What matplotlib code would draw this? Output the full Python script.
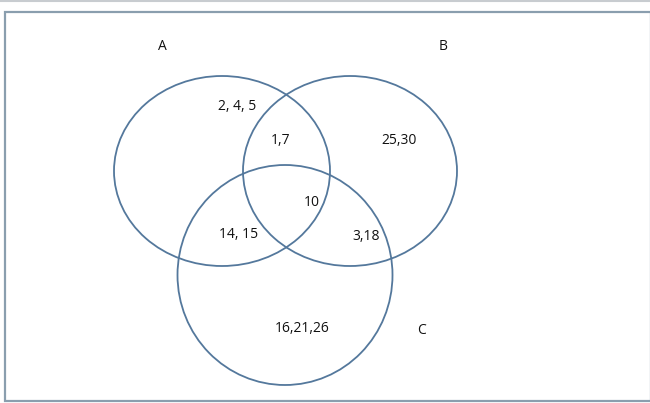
import matplotlib
matplotlib.use('Agg')
import matplotlib.pyplot as plt
from matplotlib.patches import Ellipse, Rectangle

# Conjuntos e elementos de cada regiao
conjuntos = ['A', 'B', 'C']
regioes = ['2, 4, 5', '1,7', '25,30', '10', '14, 15', '3,18', '16,21,26']

cor_linha = '#54789c'

fig = plt.figure(figsize=(6.5, 4.03), dpi=100)
ax = fig.add_axes([0, 0, 1, 1])
ax.set_xlim(0, 650)
ax.set_ylim(403, 0)
ax.axis('off')

# moldura
ax.plot([0, 650], [1, 1], color='#c8ccd0', lw=1.5)
ax.add_patch(Rectangle((5, 12), 646, 389, fill=False, ec='#8a9eae', lw=1.6))

# elipses A, B, C
ax.add_patch(Ellipse((222, 171), 216, 190, fill=False, ec=cor_linha, lw=1.3))
ax.add_patch(Ellipse((350, 171), 214, 190, fill=False, ec=cor_linha, lw=1.3))
ax.add_patch(Ellipse((285, 275), 215, 220, fill=False, ec=cor_linha, lw=1.3))

pos_conj = [(162, 46), (443, 46), (421, 330)]
for nome, (x, y) in zip(conjuntos, pos_conj):
    ax.text(x, y, nome, ha='center', va='center', fontsize=10,
            family='Open Sans', color='#111111')

pos_reg = [(237, 107), (281, 140), (399, 140), (312, 203),
           (239, 235), (366, 236), (302, 329)]
for txt, (x, y) in zip(regioes, pos_reg):
    ax.text(x, y, txt, ha='center', va='center', fontsize=10,
            family='Open Sans', color='#111111')

fig.savefig('out.png', dpi=100)
